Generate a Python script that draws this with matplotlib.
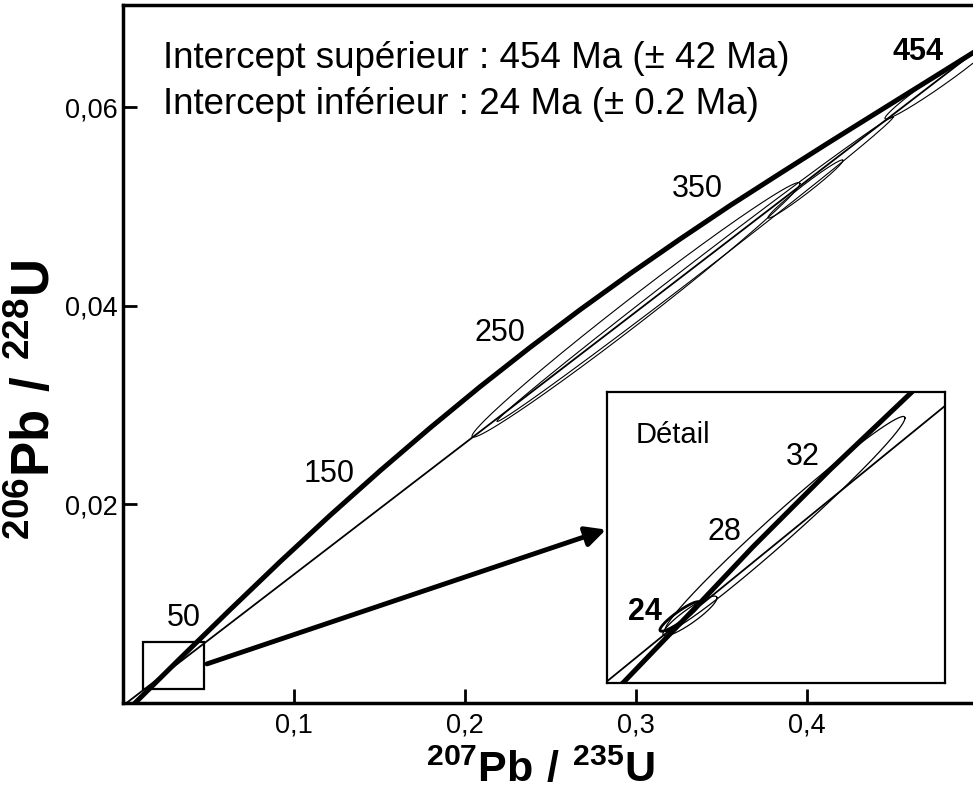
import matplotlib
matplotlib.use("Agg")
import matplotlib.pyplot as plt
import numpy as np
from matplotlib.patches import Rectangle
from matplotlib.ticker import FuncFormatter

plt.rcParams['font.family'] = ['Liberation Sans', 'DejaVu Sans']
plt.rcParams['mathtext.fontset'] = 'custom'
plt.rcParams['mathtext.rm'] = 'Liberation Sans'
plt.rcParams['mathtext.bf'] = 'Liberation Sans:bold'

# concordia curve (207Pb/235U, 206Pb/238U)
conc_x = [0.00585, 0.03333, 0.06257, 0.09181, 0.12105, 0.15029, 0.17953, 0.20877, 0.23801,
          0.26725, 0.29649, 0.32573, 0.35497, 0.38421, 0.41345, 0.44269, 0.47193, 0.50117]
conc_y = [-0.0002, 0.00448, 0.00939, 0.01422, 0.01889, 0.02338, 0.02770, 0.03185, 0.03581,
          0.03960, 0.04323, 0.04672, 0.05010, 0.05333, 0.05652, 0.05966, 0.06279, 0.06593]
conc_ages = ['50', '150', '250', '350']
age_x = [0.0357, 0.1205, 0.2205, 0.3357]
age_y = [0.00859, 0.02303, 0.03727, 0.05172]

# discordia line (lower intercept 24 Ma, upper 454 Ma)
disc_x = [0.0005, 0.5050]
disc_y = [-0.0002, 0.0665]

# error ellipses: two tips + vertical half thickness
ell_tip1 = [(0.2041, 0.02687), (0.2187, 0.02838), (0.3772, 0.04889), (0.4456, 0.05889)]
ell_tip2 = [(0.3959, 0.05232), (0.4503, 0.05899), (0.4211, 0.05465), (0.5099, 0.06657)]
ell_h = [0.00160, 0.00085, 0.00055, 0.00075]

# detail (inset) data
det_conc_x = [0.0205, 0.02085, 0.02320, 0.02495, 0.02777, 0.03187, 0.03624, 0.0366]
det_conc_y = [0.00296, 0.00300, 0.003379, 0.003660, 0.004122, 0.004757, 0.005400, 0.00546]
det_disc_x = [0.0195, 0.0382]
det_disc_y = [0.00295, 0.00531]
det_tip1 = [(0.02309, 0.003437), (0.02298, 0.003404), (0.02282, 0.003437)]
det_tip2 = [(0.03587, 0.005185), (0.02586, 0.003701), (0.02495, 0.003660)]
det_h = [0.000150, 0.000070, 0.000050]
det_lw = [0.9, 0.9, 2.0]
det_ages = ['24', '28', '32']
det_age_pos = [(0.112, 0.244), (0.349, 0.519), (0.58, 0.777)]


def ellipse_xy(p1, p2, h, n=300):
    cx, cy = (p1[0] + p2[0]) / 2, (p1[1] + p2[1]) / 2
    ux, uy = (p2[0] - p1[0]) / 2, (p2[1] - p1[1]) / 2
    t = np.linspace(0, 2 * np.pi, n)
    return cx + ux * np.cos(t), cy + uy * np.cos(t) + h * np.sin(t)


fig = plt.figure(figsize=(9.73, 7.96), dpi=100)
ax = fig.add_axes([0.1264, 0.1168, 0.8787, 0.8769])
ax.set_xlim(0, 0.5)
ax.set_ylim(0, 0.0703)

ax.plot(conc_x, conc_y, color='black', lw=3.6, solid_joinstyle='round')
ax.plot(disc_x, disc_y, color='black', lw=1.3)
for p1, p2, h in zip(ell_tip1, ell_tip2, ell_h):
    ex, ey = ellipse_xy(p1, p2, h)
    ax.plot(ex, ey, color='black', lw=0.8)

for lab, x, y in zip(conc_ages, age_x, age_y):
    ax.text(x, y, lab, fontsize=22, ha='center', va='center')
ax.text(0.4649, 0.06556, '454', fontsize=22, fontweight='bold', ha='center', va='center')

ax.text(0.0468, 0.9097, 'Intercept supérieur : 454 Ma (± 42 Ma)', transform=ax.transAxes,
        fontsize=26.5, va='baseline')
ax.text(0.0468, 0.8438, 'Intercept inférieur : 24 Ma (± 0.2 Ma)', transform=ax.transAxes,
        fontsize=26.5, va='baseline')

# small box + arrow to the detail
ax.add_patch(Rectangle((0.0117, 0.00141), 0.0357, 0.00475, fill=False, lw=1.6, color='black'))
ax.annotate('', xy=(0.2825, 0.01747), xytext=(0.0491, 0.00394),
            arrowprops=dict(arrowstyle='-|>', lw=3.5, color='black', mutation_scale=30,
                            shrinkA=0, shrinkB=0))

ax.set_xticks([0.1, 0.2, 0.3, 0.4])
ax.set_yticks([0.02, 0.04, 0.06])
comma = FuncFormatter(lambda v, p: ('%g' % v).replace('.', ','))
ax.xaxis.set_major_formatter(comma)
ax.yaxis.set_major_formatter(comma)
ax.tick_params(direction='in', length=10, width=2, labelsize=19.5)
ax.tick_params(axis='x', pad=7)
ax.tick_params(axis='y', pad=4)
for s in ax.spines.values():
    s.set_linewidth(2.5)

fig.text(0.555, 0.032, r'$\mathbf{^{207}Pb\ /\ ^{235}U}$', fontsize=31, ha='center', va='center')
fig.text(0.036, 0.497, r'$\mathbf{^{206}Pb\ /\ ^{228}U}$', fontsize=38, ha='center', va='center',
         rotation=90)

# inset "Détail"
ins = fig.add_axes([0.6238, 0.1420, 0.3474, 0.3656])
ins.set_xlim(0.020, 0.038)
ins.set_ylim(0.0030, 0.0054)
ins.set_xticks([])
ins.set_yticks([])
for s in ins.spines.values():
    s.set_linewidth(1.6)
ins.plot(det_conc_x, det_conc_y, color='black', lw=3.6, solid_joinstyle='round')
ins.plot(det_disc_x, det_disc_y, color='black', lw=1.3)
for p1, p2, h, lw in zip(det_tip1, det_tip2, det_h, det_lw):
    ex, ey = ellipse_xy(p1, p2, h)
    ins.plot(ex, ey, color='black', lw=lw)
for lab, (fx, fy) in zip(det_ages, det_age_pos):
    ins.text(fx, fy, lab, transform=ins.transAxes, fontsize=22, ha='center', va='center',
             fontweight='bold' if lab == '24' else 'normal')
ins.text(0.0858, 0.825, 'Détail', transform=ins.transAxes, fontsize=21, va='baseline')

fig.savefig('out.png', dpi=100)
